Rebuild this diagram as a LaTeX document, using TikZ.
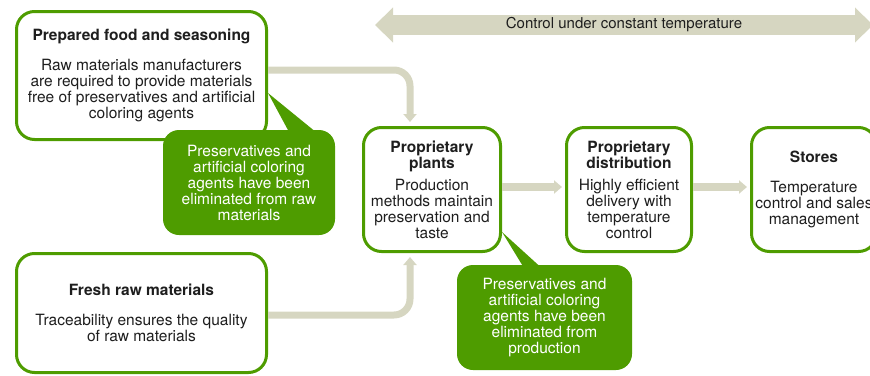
\documentclass[tikz,border=0pt]{standalone}
\usepackage{fontspec}
\setmainfont{TeX Gyre Heros}
\usetikzlibrary{positioning,arrows.meta}

\definecolor{leaf}{RGB}{78,156,0}
\definecolor{sand}{RGB}{214,214,193}
\definecolor{ink}{RGB}{30,30,30}

\tikzset{
  stage/.style={draw=leaf,line width=3pt,fill=white,rounded corners=18pt,
    align=center,text=ink,inner sep=0pt,
    font=\fontsize{15.5}{16}\selectfont},
  callout/.style={fill=leaf,rounded corners=16pt,align=center,
    text=white,inner sep=0pt,minimum width=172pt,minimum height=105pt,
    font=\fontsize{15.5}{16}\selectfont},
  pipe/.style={draw=sand,line width=7pt,rounded corners=16pt,
    -{Triangle[width=13pt,length=8pt]}}
}

\begin{document}
\begin{tikzpicture}[x=1pt,y=-1pt]
    \useasboundingbox (0,0) rectangle (870,375);

    % temperature band
    \coordinate (t_l) at (375,25);
    \coordinate (t_r) at (873,25);
    \draw[sand,line width=20pt,
          {Triangle[width=34pt,length=18pt]}-{Triangle[width=34pt,length=18pt]}]
        (t_l) -- (t_r) node [midway,text=ink,font=\fontsize{15}{16}\selectfont]
        {Control under constant temperature};

    % boxes
    \node[stage,minimum width=250pt,minimum height=128pt] (prep) at (141.5,75.5)
        {\bfseries Prepared food and seasoning\\[14pt]
         Raw materials manufacturers\\ are required to provide materials\\
         free of preservatives and artificial\\ coloring agents};
    \node[stage,minimum width=250pt,minimum height=119pt] (fresh) at (141.5,313)
        {\bfseries Fresh raw materials\\[14pt]
         Traceability ensures the quality\\ of raw materials};
    \node[stage,minimum width=137pt,minimum height=124pt] (plant) at (432,189.5)
        {\bfseries Proprietary\\ \bfseries plants\\[6pt]
         Production\\ methods maintain\\ preservation and\\ taste};
    \node[stage,minimum width=125pt,minimum height=124pt] (dist) [right=63pt of plant]
        {\bfseries Proprietary\\ \bfseries distribution\\[6pt]
         Highly efficient\\ delivery with\\ temperature\\ control};
    \node[stage,minimum width=125pt,minimum height=124pt] (store) [right=57pt of dist]
        {\bfseries Stores\\[14pt]
         Temperature\\ control and sales\\ management};

    % notes
    \node[callout] (note_1) at (249,182.5)
        {Preservatives and\\ artificial coloring\\ agents have been\\
         eliminated from raw\\ materials};
    \fill[leaf] ([yshift=-17.5pt]prep.east) -- ([xshift=41pt,yshift=-4pt]note_1.north)
        -- ([xshift=69pt,yshift=-4pt]note_1.north) -- cycle;
    \node[callout,minimum width=175pt] (note_2) at (544.5,317.5)
        {Preservatives and\\ artificial coloring\\ agents have been\\
         eliminated from\\ production};
    \fill[leaf] ([yshift=-42.5pt]plant.east) -- ([xshift=-20pt,yshift=-4pt]note_2.north)
        -- ([xshift=-2pt,yshift=-4pt]note_2.north) -- cycle;

    % flow
    \draw[pipe,shorten >=4pt] ([yshift=5.5pt]prep.east) -| ([xshift=-22pt]plant.north);
    \draw[pipe,shorten >=4pt] ([yshift=-2pt]fresh.east) -| ([xshift=-22pt]plant.south);
    \draw[pipe,line width=8pt,shorten >=3pt] ([yshift=2.5pt]plant.east) -- ([yshift=2.5pt]dist.west);
    \draw[pipe,line width=8pt,shorten >=3pt] ([yshift=2.5pt]dist.east) -- ([yshift=2.5pt]store.west);
\end{tikzpicture}
\end{document}
